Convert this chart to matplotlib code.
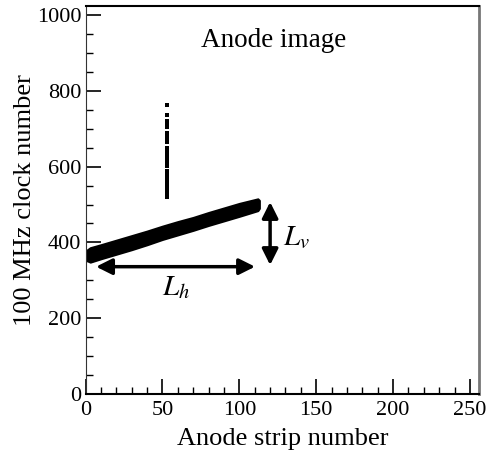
import matplotlib
matplotlib.use('Agg')
import matplotlib.pyplot as plt
from matplotlib.ticker import MultipleLocator

plt.rcParams['font.family'] = ['Liberation Serif', 'DejaVu Serif']
plt.rcParams['mathtext.fontset'] = 'stix'

# Band of hits: strip number, lowest and highest clock number
band_strip = [1, 3, 10, 20, 30, 40, 50, 60, 70, 80, 90, 100, 108, 112, 113]
band_low = [352, 348, 357, 369, 381, 394, 408, 420, 432, 445, 457, 469, 479, 484, 490]
band_high = [380, 386, 394, 406, 418, 430, 443, 455, 466, 479, 491, 503, 511, 515, 511]

# Isolated hits on strip 53
dot_strip = 53
dot_clock = [762, 736, 721, 717, 713, 709, 705, 689, 685, 677, 673, 669, 665,
             648, 644, 640, 636, 632, 628, 624, 620, 609, 605, 601, 588, 584,
             580, 576, 572, 563, 559, 555, 551, 547, 543, 535, 531, 527, 523, 520]

# Arrows marking L_h and L_v
lh_x = [5, 112]
lh_y = 336
lv_x = 120
lv_y = [333, 514]

fig = plt.figure(figsize=(4.92, 4.59), dpi=100)
ax = fig.add_axes([0.174, 0.1416, 0.8, 0.8454])

ax.fill_between(band_strip, band_low, band_high, color='black', lw=1.5,
                edgecolor='black')
ax.plot([dot_strip] * len(dot_clock), dot_clock, 's', color='black',
        markersize=2.6, markeredgewidth=0)

arrow = dict(arrowstyle='<|-|>', color='black', lw=2.5, mutation_scale=24)
ax.annotate('', xy=(lh_x[1], lh_y), xytext=(lh_x[0], lh_y), arrowprops=arrow)
ax.annotate('', xy=(lv_x, lv_y[1]), xytext=(lv_x, lv_y[0]), arrowprops=arrow)
ax.text(59, 281, r'$L_h$', fontsize=21, ha='center', va='center')
ax.text(137, 412, r'$L_v$', fontsize=21, ha='center', va='center')
ax.text(122, 934, 'Anode image', fontsize=19.5, ha='center', va='center')

ax.set_xlim(0, 256)
ax.set_ylim(0, 1024)
ax.xaxis.set_major_locator(MultipleLocator(50))
ax.xaxis.set_minor_locator(MultipleLocator(10))
ax.yaxis.set_major_locator(MultipleLocator(200))
ax.yaxis.set_minor_locator(MultipleLocator(50))
ax.tick_params(which='major', direction='in', length=11, width=1.2, labelsize=16, pad=3)
ax.tick_params(which='minor', direction='in', length=5, width=1)
ax.tick_params(axis='x', pad=5)

for s in ['top', 'bottom']:
    ax.spines[s].set_color('black')
ax.spines['left'].set_color('#333333')
ax.spines['right'].set_color('#777777')
ax.spines['right'].set_linewidth(2)
ax.spines['top'].set_linewidth(1.5)
ax.spines['bottom'].set_linewidth(1.5)

ax.set_xlabel('Anode strip number', fontsize=19, labelpad=6)
ax.set_ylabel('100 MHz clock number', fontsize=19, labelpad=1)

fig.savefig('out.png', dpi=100)
